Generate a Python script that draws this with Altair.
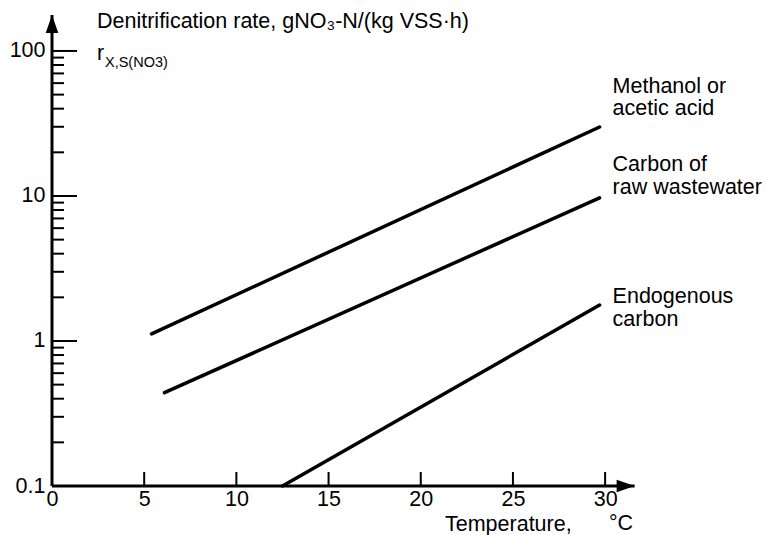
import altair as alt
import pandas as pd

# Straight lines on the semi-log plot: start and end point of each curve
series = ["Methanol or acetic acid", "Carbon of raw wastewater", "Endogenous carbon"]
temp_start = [5.4, 6.1, 12.5]
rate_start = [1.12, 0.44, 0.1]
temp_end = [29.7, 29.7, 29.7]
rate_end = [29.9, 9.7, 1.77]

# Two-line labels placed at the right-hand end of each curve
label_lines = [["Methanol or", "acetic acid"],
               ["Carbon of", "raw wastewater"],
               ["Endogenous", "carbon"]]
label_dy = [[-40, -18], [-33, -10], [-8, 15]]

# Axis ticks and labels
x_labels = [0, 5, 10, 15, 20, 25, 30]
x_ticks = [5, 10, 15, 20, 25, 30]
y_labels = [0.1, 1, 10, 100]
y_major = [1, 10, 100]
y_minor = [k * 10.0 ** e for e in (-1, 0, 1) for k in range(2, 10)]

# Extent of the arrowed axes
X_END = 31.6
Y_END = 177

FONT = "Liberation Sans"
FS = 21.5
W, H = 590, 471

xs = alt.Scale(domain=[0, 32], nice=False, zero=False)
ys = alt.Scale(type="log", domain=[0.1, Y_END], nice=False, zero=False)

rows = []
for s, x0, y0, x1, y1 in zip(series, temp_start, rate_start, temp_end, rate_end):
    rows.append({"series": s, "t": x0, "r": y0})
    rows.append({"series": s, "t": x1, "r": y1})
line_df = pd.DataFrame(rows)

lines = alt.Chart(line_df).mark_line(color="black", strokeWidth=3.5, strokeCap="round").encode(
    x=alt.X("t:Q", scale=xs,
            axis=alt.Axis(values=x_labels, ticks=False, domain=False, grid=False, title=None,
                          labelFont=FONT, labelFontSize=FS, labelColor="black",
                          labelPadding=2, labelFlush=False)),
    y=alt.Y("r:Q", scale=ys,
            axis=alt.Axis(values=y_labels, format="~g", ticks=False, domain=False, grid=False,
                          title=None, labelFont=FONT, labelFontSize=FS, labelColor="black",
                          labelPadding=7, labelFlush=False)),
    detail="series:N",
)

# Axis lines
xaxis_line = alt.Chart(pd.DataFrame({"a": [0], "b": [X_END], "r": [0.1]})).mark_rule(
    color="black", strokeWidth=3).encode(x=alt.X("a:Q", scale=xs), x2="b:Q", y=alt.Y("r:Q", scale=ys))
yaxis_line = alt.Chart(pd.DataFrame({"t": [0], "a": [0.1], "b": [Y_END]})).mark_rule(
    color="black", strokeWidth=3).encode(x=alt.X("t:Q", scale=xs), y=alt.Y("a:Q", scale=ys), y2="b:Q")

# Arrowheads
y_arrow = alt.Chart(pd.DataFrame({"t": [0], "r": [Y_END]})).mark_point(
    shape="M0,0L0.7,2L-0.7,2Z", size=324, filled=True, color="black", opacity=1, strokeWidth=0
).encode(x=alt.X("t:Q", scale=xs), y=alt.Y("r:Q", scale=ys))
x_arrow = alt.Chart(pd.DataFrame({"t": [X_END], "r": [0.1]})).mark_point(
    shape="M0,0L-2,0.7L-2,-0.7Z", size=324, filled=True, color="black", opacity=1, strokeWidth=0
).encode(x=alt.X("t:Q", scale=xs), y=alt.Y("r:Q", scale=ys))

# Inward tick marks
y_major_ticks = alt.Chart(pd.DataFrame({"r": y_major})).mark_rule(color="black", strokeWidth=2).encode(
    y=alt.Y("r:Q", scale=ys), x=alt.value(0), x2=alt.value(25))
y_minor_ticks = alt.Chart(pd.DataFrame({"r": y_minor})).mark_rule(color="black", strokeWidth=2).encode(
    y=alt.Y("r:Q", scale=ys), x=alt.value(0), x2=alt.value(12))
x_tick_marks = alt.Chart(pd.DataFrame({"t": x_ticks})).mark_rule(color="black", strokeWidth=2).encode(
    x=alt.X("t:Q", scale=xs), y=alt.value(H), y2=alt.value(H - 14))

# Curve labels
lab_rows = []
for s, x1, y1, texts, dys in zip(series, temp_end, rate_end, label_lines, label_dy):
    for txt, dy in zip(texts, dys):
        lab_rows.append({"t": x1, "r": y1, "txt": txt, "dy": dy})
labels = alt.layer(*[
    alt.Chart(pd.DataFrame([row])).mark_text(
        align="left", baseline="middle", dx=13, dy=row["dy"], font=FONT, fontSize=FS, color="black"
    ).encode(x=alt.X("t:Q", scale=xs), y=alt.Y("r:Q", scale=ys), text="txt:N")
    for row in lab_rows
])

one = alt.Data(values=[{}])
title1 = alt.Chart(one).mark_text(
    text="Denitrification rate, gNO\u2083-N/(kg VSS\u00b7h)", align="left", baseline="middle",
    font=FONT, fontSize=FS, color="black").encode(x=alt.value(45), y=alt.value(7))
title2 = alt.Chart(one).mark_text(
    text="r", align="left", baseline="middle", font=FONT, fontSize=FS, color="black"
).encode(x=alt.value(45), y=alt.value(39))
title3 = alt.Chart(one).mark_text(
    text="X,S(NO3)", align="left", baseline="middle", font=FONT, fontSize=14.5, color="black"
).encode(x=alt.value(53), y=alt.value(48))
xtitle = alt.Chart(one).mark_text(
    text="Temperature,", align="left", baseline="middle", font=FONT, fontSize=FS, color="black"
).encode(x=alt.value(393), y=alt.value(510))
xunit = alt.Chart(one).mark_text(
    text="\u00b0C", align="left", baseline="middle", font=FONT, fontSize=FS, color="black"
).encode(x=alt.value(557), y=alt.value(509))

chart = alt.layer(
    lines, xaxis_line, yaxis_line, y_arrow, x_arrow,
    y_major_ticks, y_minor_ticks, x_tick_marks, labels,
    title1, title2, title3, xtitle, xunit,
).properties(
    width=W, height=H,
    autosize=alt.AutoSizeParams(type="none"),
    padding={"left": 52, "top": 15, "right": 766 - 52 - W, "bottom": 535 - 15 - H},
    background="white",
).configure_view(strokeWidth=0)

chart.save("out.html", embed_options={"renderer": "svg", "actions": False})
